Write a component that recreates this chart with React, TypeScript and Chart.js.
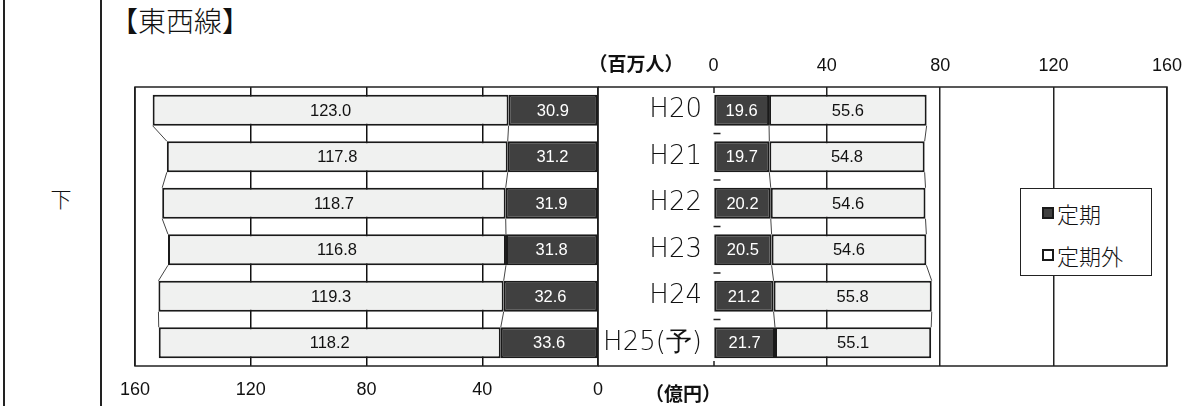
import React, { useEffect, useRef } from "react";
import { Chart, registerables } from "chart.js";
Chart.register(...registerables);

// ---- data ----
const categories = ["H20", "H21", "H22", "H23", "H24", "H25(予)"];
const seriesNames = ["定期", "定期外"];
const revenueTeiki = [30.9, 31.2, 31.9, 31.8, 32.6, 33.6]; // 億円
const revenueTeikiGai = [123.0, 117.8, 118.7, 116.8, 119.3, 118.2]; // 億円
const ridersTeiki = [19.6, 19.7, 20.2, 20.5, 21.2, 21.7]; // 百万人
const ridersTeikiGai = [55.6, 54.8, 54.6, 54.6, 55.8, 55.1]; // 百万人
const axisTicks = [0, 40, 80, 120, 160];
const revenueUnit = "（億円）";
const ridersUnit = "（百万人）";
const titleText = "【東西線】";
const sideLabel = "下";

// ---- styles ----
const DARK = "#404040";
const LIGHT = "#f0f1f0";
const EDGE = "#1a1a1a";
const LINE = "#222";
const JP = "'Noto Sans CJK JP', 'Noto Sans', sans-serif";
const NUM = "'Liberation Sans', Arial, sans-serif";

const setTicks = (scale: any) => {
  scale.ticks = axisTicks.map((v) => ({ value: v }));
};

const seriesLinesPlugin = {
  id: "seriesLines",
  beforeDatasetsDraw(chart: any) {
    const ctx = chart.ctx;
    ctx.save();
    ctx.strokeStyle = "#444";
    ctx.lineWidth = 1;
    chart.data.datasets.forEach((_ds: any, di: number) => {
      const meta = chart.getDatasetMeta(di);
      for (let j = 0; j < meta.data.length - 1; j++) {
        const a: any = meta.data[j];
        const b: any = meta.data[j + 1];
        ctx.beginPath();
        ctx.moveTo(a.x, a.y + a.height / 2);
        ctx.lineTo(b.x, b.y - b.height / 2);
        ctx.stroke();
      }
    });
    ctx.restore();
  },
};

const valueLabelsPlugin = {
  id: "valueLabels",
  afterDatasetsDraw(chart: any) {
    const ctx = chart.ctx;
    ctx.save();
    ctx.font = `16.5px ${NUM}`;
    ctx.textAlign = "center";
    ctx.textBaseline = "middle";
    chart.data.datasets.forEach((ds: any, di: number) => {
      const meta = chart.getDatasetMeta(di);
      meta.data.forEach((el: any, j: number) => {
        ctx.fillStyle = ds.labelColor;
        ctx.fillText(Number(ds.data[j]).toFixed(1), (el.x + el.base) / 2, el.y + 1);
      });
    });
    ctx.restore();
  },
};

const makeDatasets = (a: number[], b: number[]) => [
  {
    label: seriesNames[0],
    data: a,
    backgroundColor: DARK,
    borderColor: EDGE,
    borderWidth: 2,
    borderSkipped: false,
    labelColor: "#ffffff",
  },
  {
    label: seriesNames[1],
    data: b,
    backgroundColor: LIGHT,
    borderColor: EDGE,
    borderWidth: 2,
    borderSkipped: false,
    labelColor: "#111111",
  },
];

function LeftChart() {
  const ref = useRef<HTMLCanvasElement>(null);
  useEffect(() => {
    const framePlugin = {
      id: "frameL",
      afterDraw(chart: any) {
        const { left, right, top, bottom } = chart.chartArea;
        const ctx = chart.ctx;
        ctx.save();
        ctx.strokeStyle = LINE;
        ctx.lineWidth = 1.5;
        ctx.strokeRect(left, top, right - left, bottom - top);
        ctx.restore();
      },
    };
    const chart = new Chart(ref.current as HTMLCanvasElement, {
      type: "bar",
      data: { labels: categories, datasets: makeDatasets(revenueTeiki, revenueTeikiGai) as any },
      options: {
        indexAxis: "y",
        animation: false,
        responsive: true,
        maintainAspectRatio: false,
        layout: { padding: { left: 35, right: 12, top: 87, bottom: 0 } },
        plugins: { legend: { display: false }, tooltip: { enabled: false } },
        datasets: { bar: { barPercentage: 0.667, categoryPercentage: 1 } },
        scales: {
          x: {
            stacked: true,
            reverse: true,
            position: "bottom",
            min: axisTicks[0],
            max: axisTicks[axisTicks.length - 1],
            afterBuildTicks: setTicks,
            afterFit: (s: any) => {
              s.height = 40;
            },
            grid: { color: "#111", lineWidth: 1.5, drawTicks: false },
            border: { display: false },
            ticks: { padding: 13, font: { family: NUM, size: 18 }, color: "#111" },
          },
          y: { stacked: true, display: false },
        },
      } as any,
      plugins: [seriesLinesPlugin, valueLabelsPlugin, framePlugin],
    });
    return () => chart.destroy();
  }, []);
  return (
    <div style={{ position: "absolute", left: 100, top: 0, width: 510, height: 406 }}>
      <canvas ref={ref} />
    </div>
  );
}

function RightChart() {
  const ref = useRef<HTMLCanvasElement>(null);
  useEffect(() => {
    const framePlugin = {
      id: "frameR",
      afterDraw(chart: any) {
        const { left, right, top, bottom } = chart.chartArea;
        const ctx = chart.ctx;
        ctx.save();
        ctx.strokeStyle = LINE;
        ctx.lineWidth = 1.5;
        ctx.beginPath();
        ctx.moveTo(0, top);
        ctx.lineTo(right, top);
        ctx.lineTo(right, bottom);
        ctx.lineTo(0, bottom);
        ctx.stroke();
        // category axis tick marks (inside) between bars
        const meta = chart.getDatasetMeta(0);
        ctx.beginPath();
        for (let j = 1; j < meta.data.length; j++) {
          const y = (meta.data[j - 1].y + meta.data[j].y) / 2;
          ctx.moveTo(left, y);
          ctx.lineTo(left + 7, y);
        }
        ctx.moveTo(left + 0.5, top);
        ctx.lineTo(left + 0.5, top + 6);
        ctx.moveTo(left + 0.5, bottom);
        ctx.lineTo(left + 0.5, bottom - 5);
        ctx.stroke();
        ctx.restore();
      },
    };
    const chart = new Chart(ref.current as HTMLCanvasElement, {
      type: "bar",
      data: { labels: categories, datasets: makeDatasets(ridersTeiki, ridersTeikiGai) as any },
      options: {
        indexAxis: "y",
        animation: false,
        responsive: true,
        maintainAspectRatio: false,
        layout: { padding: { left: 0, right: 16.5, top: 0, bottom: 40 } },
        plugins: { legend: { display: false }, tooltip: { enabled: false } },
        datasets: { bar: { barPercentage: 0.667, categoryPercentage: 1 } },
        scales: {
          x: {
            stacked: true,
            position: "top",
            min: axisTicks[0],
            max: axisTicks[axisTicks.length - 1],
            afterBuildTicks: setTicks,
            afterFit: (s: any) => {
              s.height = 87;
            },
            grid: {
              color: (c: any) => (c.tick && c.tick.value === 0 ? "rgba(0,0,0,0)" : "#222"),
              lineWidth: 1.5,
              drawTicks: false,
            },
            border: { display: false },
            ticks: { padding: 10, font: { family: NUM, size: 18 }, color: "#111" },
          },
          y: {
            stacked: true,
            position: "left",
            afterFit: (s: any) => {
              s.width = 115.5;
            },
            grid: { display: false, drawTicks: false },
            border: { display: false },
            ticks: {
              padding: 11.5,
              font: { family: "'DejaVu Sans', sans-serif", size: 26, weight: "300" },
              color: "#111",
            },
          },
        },
      } as any,
      plugins: [seriesLinesPlugin, valueLabelsPlugin, framePlugin],
    });
    return () => chart.destroy();
  }, []);
  return (
    <div style={{ position: "absolute", left: 598, top: 0, width: 594, height: 406 }}>
      <canvas ref={ref} />
    </div>
  );
}

const centered = (x: number, y: number): React.CSSProperties => ({
  position: "absolute",
  left: x,
  top: y,
  transform: "translate(-50%, -50%)",
  whiteSpace: "nowrap",
  lineHeight: 1,
});

export default function App() {
  const legendColors = [DARK, "#ffffff"];
  return (
    <div
      style={{
        position: "absolute",
        left: 0,
        top: 0,
        width: 1192,
        height: 406,
        background: "#fff",
        overflow: "hidden",
        color: "#111",
      }}
    >
      <div style={{ position: "absolute", left: 3, top: 0, width: 2, height: 406, background: LINE }} />
      <div style={{ position: "absolute", left: 100, top: 0, width: 2, height: 406, background: LINE }} />
      <div style={{ ...centered(61, 198), fontFamily: JP, fontSize: 21, fontWeight: 300, color: "#111" }}>
        {sideLabel}
      </div>
      <div
        style={{
          position: "absolute",
          left: 110,
          top: 20,
          transform: "translateY(-50%)",
          fontFamily: JP,
          fontSize: 28,
          fontWeight: 300,
          lineHeight: 1,
          whiteSpace: "nowrap",
        }}
      >
        {titleText}
      </div>
      <LeftChart />
      <RightChart />
      <div style={{ ...centered(636, 62), fontFamily: JP, fontSize: 19, fontWeight: 700 }}>{ridersUnit}</div>
      <div style={{ ...centered(683, 392), fontFamily: JP, fontSize: 19, fontWeight: 700 }}>{revenueUnit}</div>
      <div
        style={{
          position: "absolute",
          left: 1020,
          top: 188,
          width: 132,
          height: 88,
          boxSizing: "border-box",
          border: `1.5px solid ${LINE}`,
          background: "#fff",
        }}
      >
        {seriesNames.map((name, i) => (
          <div
            key={name}
            style={{
              position: "absolute",
              left: 21,
              top: 24 + i * 42,
              transform: "translateY(-50%)",
              display: "flex",
              alignItems: "center",
              whiteSpace: "nowrap",
            }}
          >
            <span
              style={{
                display: "inline-block",
                width: 12,
                height: 12,
                boxSizing: "border-box",
                border: `2px solid ${EDGE}`,
                background: legendColors[i],
                marginRight: 3,
              }}
            />
            <span style={{ fontFamily: JP, fontSize: 22, fontWeight: 300, lineHeight: 1 }}>{name}</span>
          </div>
        ))}
      </div>
    </div>
  );
}
